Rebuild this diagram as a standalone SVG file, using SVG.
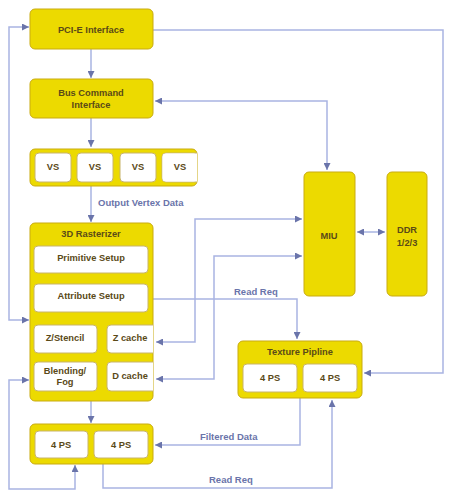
<svg xmlns="http://www.w3.org/2000/svg" width="450" height="496" viewBox="0 0 450 496">
<defs>
<marker id="ah" viewBox="0 0 8 8" refX="8" refY="4" markerWidth="7" markerHeight="7" markerUnits="userSpaceOnUse" orient="auto-start-reverse">
<path d="M0,0 L8,4 L0,8 z" fill="#6a74aa"/>
</marker>
<style>
.blk{fill:#ecda00;stroke:#c9ab10;stroke-width:1}
.in{fill:#ffffff;stroke:#c8b46a;stroke-width:1}
.t{font-family:"Liberation Sans",Arial,sans-serif;font-size:9.3px;font-weight:bold;fill:#5a4a18;text-anchor:middle}
.lb{font-family:"Liberation Sans",Arial,sans-serif;font-size:9.5px;font-weight:bold;fill:#6a74aa}
.c{fill:none;stroke:#a9b4e2;stroke-width:1.5}
</style>
</defs>
<rect width="450" height="496" fill="#ffffff"/>
<g id="connectors">
<path class="c" d="M91,49 L91,78" marker-end="url(#ah)"/>
<path class="c" d="M91,118 L91,147" marker-end="url(#ah)"/>
<path class="c" d="M91,186 L91,222" marker-end="url(#ah)"/>
<path class="c" d="M91,401 L91,423" marker-end="url(#ah)"/>
<path class="c" d="M29,27 L9,27 L9,320 L29,320" marker-start="url(#ah)" marker-end="url(#ah)"/>
<path class="c" d="M153,30 L443,30 L443,373 L364,373" marker-end="url(#ah)"/>
<path class="c" d="M155,101 L327,101 L327,170" marker-start="url(#ah)" marker-end="url(#ah)"/>
<path class="c" d="M357,232 L385,232" marker-start="url(#ah)" marker-end="url(#ah)"/>
<path class="c" d="M156,342 L195,342 L195,219 L302,219" marker-start="url(#ah)" marker-end="url(#ah)"/>
<path class="c" d="M156,379 L214,379 L214,256 L302,256" marker-start="url(#ah)" marker-end="url(#ah)"/>
<path class="c" d="M153,299 L297,299 L297,339" marker-end="url(#ah)"/>
<path class="c" d="M300,398 L300,445 L155,445" marker-end="url(#ah)"/>
<path class="c" d="M103,464 L103,488 L332,488 L332,400" marker-end="url(#ah)"/>
<path class="c" d="M29,380 L9,380 L9,489 L75,489 L75,465" marker-start="url(#ah)" marker-end="url(#ah)"/>
<text class="lb" x="98" y="206">Output Vertex Data</text>
<text class="lb" x="234" y="295">Read Req</text>
<text class="lb" x="200" y="440">Filtered Data</text>
<text class="lb" x="209" y="483">Read Req</text>
</g>
<g id="pcie">
<rect class="blk" x="30" y="9" width="123" height="40" rx="5"/>
<text class="t" x="91" y="33">PCI-E Interface</text>
</g>
<g id="bus">
<rect class="blk" x="30" y="79" width="123" height="39" rx="5"/>
<text class="t" x="91" y="96">Bus Command</text>
<text class="t" x="91" y="108">Interface</text>
</g>
<g id="vs">
<rect class="blk" x="30" y="149" width="167" height="37" rx="5"/>
<rect class="in" x="35" y="153" width="36" height="29" rx="4"/>
<rect class="in" x="77" y="153" width="36" height="29" rx="4"/>
<rect class="in" x="120" y="153" width="36" height="29" rx="4"/>
<path class="in" d="M197,153 L166,153 Q162,153 162,157 L162,178 Q162,182 166,182 L197,182"/>
<rect x="162.5" y="153.5" width="34" height="28" fill="#ffffff" rx="3"/>
<text class="t" x="53" y="170">VS</text>
<text class="t" x="95" y="170">VS</text>
<text class="t" x="138" y="170">VS</text>
<text class="t" x="180" y="170">VS</text>
</g>
<g id="rasterizer">
<rect class="blk" x="30" y="223" width="123" height="178" rx="5"/>
<text class="t" x="91" y="237">3D Rasterizer</text>
<rect class="in" x="34" y="246" width="114" height="27" rx="4"/>
<text class="t" x="91" y="261">Primitive Setup</text>
<rect class="in" x="34" y="284" width="114" height="28" rx="4"/>
<text class="t" x="91" y="299">Attribute Setup</text>
<rect class="in" x="34" y="325" width="63" height="28" rx="4"/>
<text class="t" x="65" y="341">Z/Stencil</text>
<path class="in" d="M153,325 L111,325 Q107,325 107,329 L107,349 Q107,353 111,353 L153,353"/>
<text class="t" x="130" y="341">Z cache</text>
<rect class="in" x="34" y="362" width="63" height="29" rx="4"/>
<text class="t" x="65" y="374">Blending/</text>
<text class="t" x="65" y="385">Fog</text>
<path class="in" d="M153,362 L111,362 Q107,362 107,366 L107,387 Q107,391 111,391 L153,391"/>
<text class="t" x="130" y="379">D cache</text>
</g>
<g id="ps">
<rect class="blk" x="30" y="424" width="123" height="40" rx="5"/>
<rect class="in" x="35" y="431" width="53" height="27" rx="4"/>
<rect class="in" x="94" y="431" width="54" height="27" rx="4"/>
<text class="t" x="61" y="448">4 PS</text>
<text class="t" x="121" y="448">4 PS</text>
</g>
<g id="texture">
<rect class="blk" x="238" y="341" width="124" height="57" rx="5"/>
<text class="t" x="300" y="355">Texture Pipline</text>
<rect class="in" x="243" y="364" width="54" height="28" rx="4"/>
<rect class="in" x="303" y="364" width="54" height="28" rx="4"/>
<text class="t" x="270" y="381">4 PS</text>
<text class="t" x="330" y="381">4 PS</text>
</g>
<g id="miu">
<rect class="blk" x="304" y="172" width="51" height="124" rx="5"/>
<text class="t" x="329" y="239">MIU</text>
</g>
<g id="ddr">
<rect class="blk" x="387" y="172" width="40" height="124" rx="5"/>
<text class="t" x="407" y="233">DDR</text>
<text class="t" x="407" y="246">1/2/3</text>
</g>
</svg>
